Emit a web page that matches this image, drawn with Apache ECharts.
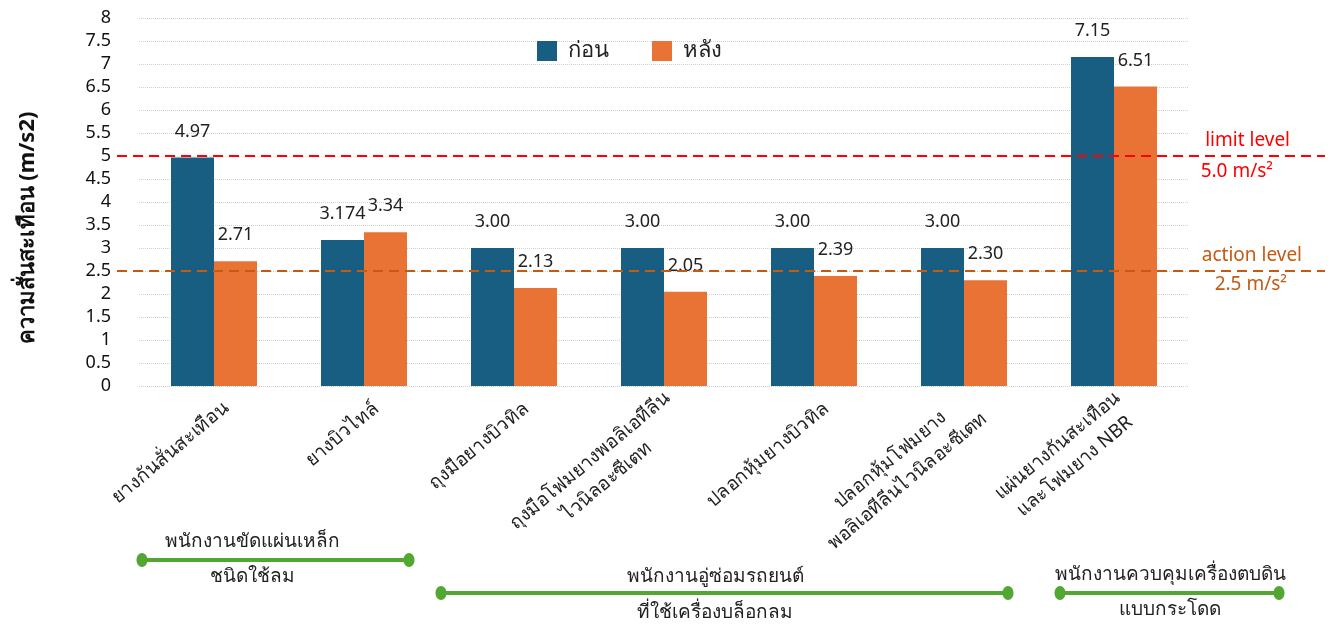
<!DOCTYPE html>
<html>
<head>
<meta charset="utf-8">
<script src="https://cdn.jsdelivr.net/npm/echarts@6/dist/echarts.min.js"></script>
<style>
  html, body { margin: 0; padding: 0; background: #fff; }
  #chart { width: 1330px; height: 626px; }
</style>
</head>
<body>
<div id="chart"></div>
<script>
// categories (x axis)
const categories = [
  'ยางกันสั่นสะเทือน',
  'ยางบิวไทล์',
  'ถุงมือยางบิวทิล',
  'ถุงมือโฟมยางพอลิเอทีลีน\nไวนิลอะซีเตท',
  'ปลอกหุ้มยางบิวทิล',
  'ปลอกหุ้มโฟมยาง\nพอลิเอทีลีนไวนิลอะซีเตท',
  'แผ่นยางกันสะเทือน\nและโฟมยาง NBR'
];
const seriesNames = ['ก่อน', 'หลัง'];
const beforeValues = [4.97, 3.174, 3.00, 3.00, 3.00, 3.00, 7.15];
const afterValues = [2.71, 3.34, 2.13, 2.05, 2.39, 2.30, 6.51];

// reference levels
const limitLevel = 5.0;
const actionLevel = 2.5;

// y axis ticks
const yMin = 0;
const yMax = 8;
const yStep = 0.5;

const FONT = 'Tahoma, "Noto Sans", "DejaVu Sans", sans-serif';
const BLUE = '#185E82';
const ORANGE = '#E97334';
const RED = '#FF0000';
const BROWN = '#C55A11';
const GREEN = '#52A733';

// keep 3.174 as is, otherwise 2 decimals
const fmtValue = v => {
  const s = String(v);
  const dec = s.indexOf('.') >= 0 ? s.split('.')[1].length : 0;
  return dec > 2 ? s : v.toFixed(2);
};

const chart = echarts.init(document.getElementById('chart'));

const levelLine = (value, color, text, pos, dist) => [
  {
    yAxis: value,
    x: 117,
    lineStyle: { color: color, type: [10, 6], width: 2 },
    label: {
      show: true,
      position: pos,
      formatter: text,
      color: color,
      fontSize: 19,
      fontFamily: FONT,
      distance: dist
    }
  },
  { yAxis: value, x: 1325 }
];

// group annotation under the axis (line with dot ends + two text rows)
const groupMark = (x1, x2, y, cx, top, bottom, topY, bottomY) => [
  { type: 'line', shape: { x1: x1, y1: y, x2: x2, y2: y }, style: { stroke: GREEN, lineWidth: 4 }, silent: true },
  { type: 'ellipse', shape: { cx: x1, cy: y, rx: 5.5, ry: 7 }, style: { fill: GREEN }, silent: true },
  { type: 'ellipse', shape: { cx: x2, cy: y, rx: 5.5, ry: 7 }, style: { fill: GREEN }, silent: true },
  { type: 'text', x: cx, y: topY, style: { text: top, fill: '#222', font: '19px ' + FONT, align: 'center', verticalAlign: 'middle' }, silent: true },
  { type: 'text', x: cx, y: bottomY, style: { text: bottom, fill: '#222', font: '19px ' + FONT, align: 'center', verticalAlign: 'middle' }, silent: true }
];

const valueLabel = {
  show: true,
  position: 'top',
  distance: 17,
  fontSize: 18,
  color: '#222',
  fontFamily: FONT,
  formatter: p => fmtValue(p.value)
};

const option = {
  backgroundColor: '#fff',
  textStyle: { fontFamily: FONT },
  animation: false,
  grid: { left: 139, right: 141, top: 18, bottom: 240, containLabel: false },
  legend: {
    data: seriesNames,
    top: 40,
    left: 537,
    padding: 0,
    icon: 'rect',
    itemWidth: 20,
    itemHeight: 20,
    itemGap: 43,
    textStyle: { fontSize: 22, color: '#222', fontFamily: FONT, padding: [0, 0, 0, 6] }
  },
  xAxis: {
    type: 'category',
    data: categories,
    axisLine: { show: false },
    axisTick: { show: false },
    axisLabel: {
      interval: 0,
      rotate: 40,
      margin: 30,
      padding: [0, -16, 0, 0],
      formatter: v => '{c|' + v + '}',
      rich: {
        c: { align: 'center', fontSize: 19, color: '#222', fontFamily: FONT, lineHeight: 27 }
      }
    }
  },
  yAxis: {
    type: 'value',
    min: yMin,
    max: yMax,
    interval: yStep,
    name: 'ความสั่นสะเทือน (m/s2)',
    nameLocation: 'middle',
    nameGap: 100,
    nameTextStyle: { fontSize: 22, fontWeight: 'bold', color: '#111', fontFamily: FONT, padding: [0, 52, 0, 0] },
    axisLine: { show: false },
    axisTick: { show: false },
    axisLabel: { fontSize: 18, color: '#111', margin: 28, fontFamily: FONT },
    splitLine: { lineStyle: { color: '#D0D0D0', type: 'dotted', width: 1 } }
  },
  series: [
    {
      name: seriesNames[0],
      type: 'bar',
      data: beforeValues,
      barWidth: 43,
      barGap: '0%',
      itemStyle: { color: BLUE },
      label: valueLabel,
      markLine: {
        silent: true,
        symbol: 'none',
        data: [
          levelLine(limitLevel, RED, 'limit level', 'insideEndTop', [35, 6]),
          levelLine(limitLevel, RED, '5.0 m/s²', 'insideEndBottom', [52, 6]),
          levelLine(actionLevel, BROWN, 'action level', 'insideEndTop', [23, 6]),
          levelLine(actionLevel, BROWN, '2.5 m/s²', 'insideEndBottom', [38, 4])
        ]
      }
    },
    {
      name: seriesNames[1],
      type: 'bar',
      data: afterValues,
      barWidth: 43,
      barGap: '0%',
      itemStyle: { color: ORANGE },
      label: valueLabel
    }
  ],
  graphic: [].concat(
    groupMark(142, 409, 560, 252, 'พนักงานขัดแผ่นเหล็ก', 'ชนิดใช้ลม', 542, 577),
    groupMark(441, 1008, 593, 715, 'พนักงานอู่ซ่อมรถยนต์', 'ที่ใช้เครื่องบล็อกลม', 577, 613),
    groupMark(1060, 1279, 593, 1170, 'พนักงานควบคุมเครื่องตบดิน', 'แบบกระโดด', 575, 610)
  )
};

chart.setOption(option);
window.addEventListener('resize', () => chart.resize());
</script>
</body>
</html>
